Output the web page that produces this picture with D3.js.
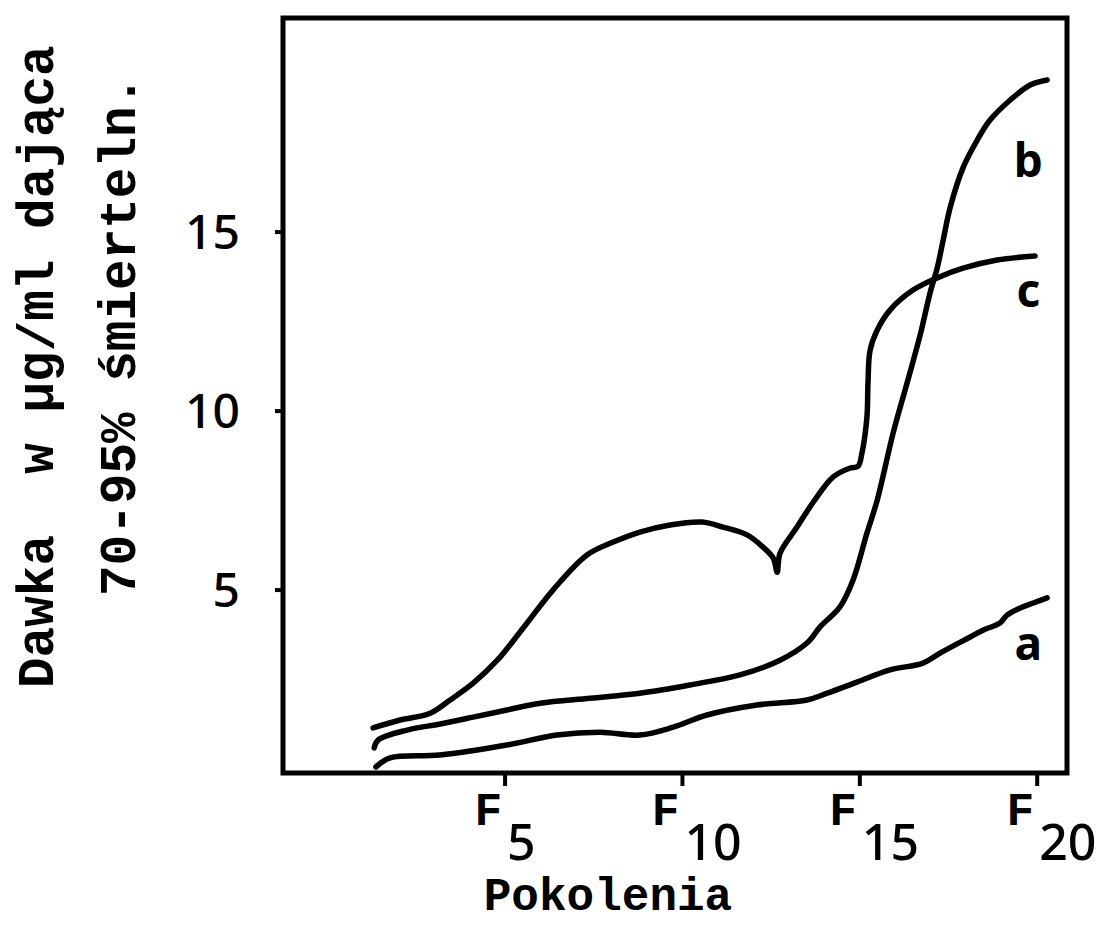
<!DOCTYPE html>
<html>
<head>
<meta charset="utf-8">
<script src="https://cdn.jsdelivr.net/npm/d3@7"></script>
<style>
  html, body { margin: 0; padding: 0; background: #fff; }
  svg { display: block; }
  text { white-space: pre; }
</style>
</head>
<body>
<script>
// ---- Data (generation, dose µg/ml) ----
const curveA = [
  [1.36,0.06],[1.76,0.31],[3.16,0.39],[5.05,0.67],[6.46,0.95],[7.68,1.03],[8.80,0.95],
  [9.74,1.17],[10.69,1.51],[12.10,1.79],[13.51,1.93],[14.08,2.12],[14.92,2.43],[15.85,2.77],
  [16.78,2.96],[17.26,3.24],[18.11,3.69],[18.47,3.88],[18.95,4.08],[19.15,4.30],[19.52,4.50],
  [19.89,4.64],[20.28,4.78]
];
const curveB = [
  [1.31,0.59],[1.42,0.81],[2.24,1.09],[3.17,1.26],[4.10,1.45],[5.05,1.65],[5.99,1.84],
  [7.40,1.98],[8.80,2.12],[10.21,2.35],[11.62,2.63],[12.75,3.04],[13.51,3.52],[13.88,3.97],
  [14.44,4.53],[14.81,5.28],[15.20,6.59],[15.49,7.51],[15.94,9.39],[16.33,10.78],[16.70,12.12],
  [16.98,13.30],[17.18,13.99],[17.35,14.78],[17.55,15.70],[17.92,16.82],[18.31,17.57],
  [18.67,18.13],[19.24,18.69],[19.80,19.11],[20.28,19.25]
];
const curveC = [
  [1.28,1.15],[2.04,1.37],[2.89,1.56],[3.45,1.93],[4.10,2.40],[4.78,3.04],[5.62,4.08],
  [6.35,5.00],[7.31,5.98],[8.05,6.34],[8.80,6.62],[9.65,6.82],[10.55,6.90],[11.14,6.76],
  [11.82,6.54],[12.27,6.20],[12.56,5.89],[12.67,5.50],[12.75,6.03],[13.23,6.76],[13.69,7.46],
  [14.25,8.16],[14.73,8.41],[14.95,8.46],[15.06,8.83],[15.20,9.83],[15.23,10.78],[15.29,11.70],
  [15.49,12.26],[15.85,12.82],[16.50,13.38],[17.18,13.72],[17.91,13.99],[18.87,14.22],[19.94,14.33]
];
const seriesNames = ["a", "b", "c"];
const yTicks = [5, 10, 15];
const xTicks = [5, 10, 15, 20];
const xTickPrefix = "F";
const xTickLabels = ["5", "10", "15", "20"];
const yTitle1 = "Dawka\u00a0\u00a0w µg/ml dająca";
const yTitle2 = "70-95% śmierteln.";
const xTitle = "Pokolenia";

// ---- Drawing ----
const W = 1097, H = 929;
const svg = d3.select("body").append("svg").attr("width", W).attr("height", H);

const x = d3.scaleLinear().domain([-1.26, 20.84]).range([283, 1067]);
const y = d3.scaleLinear().domain([-0.11, 20.98]).range([773, 18]);

const mono = "'Liberation Mono', 'DejaVu Sans Mono', monospace";
const sans = "'Noto Sans', 'DejaVu Sans', sans-serif";

// frame
const [x0, x1] = x.range();
const [yb, yt] = y.range();
svg.append("rect")
  .attr("x", x0).attr("y", yt).attr("width", x1 - x0).attr("height", yb - yt)
  .attr("fill", "none").attr("stroke", "#000").attr("stroke-width", 5);

// y ticks
const yAxisG = svg.append("g");
yAxisG.selectAll("line").data(yTicks).join("line")
  .attr("x1", x0 - 8).attr("x2", x0).attr("y1", d => y(d)).attr("y2", d => y(d))
  .attr("stroke", "#000").attr("stroke-width", 4);
yAxisG.selectAll("text").data(yTicks).join("text")
  .attr("x", 240).attr("y", d => y(d) + 17)
  .attr("text-anchor", "end")
  .attr("font-family", sans).attr("font-size", 48).attr("font-weight", 500)
  .text(d => d);

// x ticks
const xAxisG = svg.append("g");
xAxisG.selectAll("line").data(xTicks).join("line")
  .attr("x1", d => x(d)).attr("x2", d => x(d)).attr("y1", yb).attr("y2", yb + 13)
  .attr("stroke", "#000").attr("stroke-width", 4);
xAxisG.selectAll("text.f").data(xTicks).join("text").attr("class", "f")
  .attr("x", d => x(d) - 3).attr("y", 825)
  .attr("text-anchor", "end")
  .attr("font-family", mono).attr("font-size", 46).attr("font-weight", "bold")
  .text(xTickPrefix);
xAxisG.selectAll("text.sub").data(xTicks).join("text").attr("class", "sub")
  .attr("x", d => x(d) + 2).attr("y", 860)
  .attr("text-anchor", "start")
  .attr("font-family", sans).attr("font-size", 50).attr("font-weight", 500)
  .text((d, i) => xTickLabels[i]);

// axis titles
svg.append("text")
  .attr("x", 608).attr("y", 910)
  .attr("text-anchor", "middle")
  .attr("font-family", mono).attr("font-size", 46).attr("font-weight", "bold")
  .text(xTitle);
svg.append("text")
  .attr("transform", "translate(53,688) rotate(-90)")
  .attr("text-anchor", "start")
  .attr("font-family", mono).attr("font-size", 51).attr("font-weight", "bold")
  .text(yTitle1);
svg.append("text")
  .attr("transform", "translate(135,596) rotate(-90)")
  .attr("text-anchor", "start")
  .attr("font-family", mono).attr("font-size", 51).attr("font-weight", "bold")
  .text(yTitle2);

// curves
const line = d3.line().x(d => x(d[0])).y(d => y(d[1])).curve(d3.curveCatmullRom.alpha(0.5));
const curves = [curveA, curveB, curveC];
svg.append("g").selectAll("path").data(curves).join("path")
  .attr("d", line)
  .attr("fill", "none").attr("stroke", "#000").attr("stroke-width", 5.5)
  .attr("stroke-linecap", "round").attr("stroke-linejoin", "round");

// curve labels (placed near each curve's end)
const labelPos = { a: [19.75, 3.05], b: [19.75, 16.55], c: [19.75, 12.9] };
svg.append("g").selectAll("text").data(seriesNames).join("text")
  .attr("x", d => x(labelPos[d][0]))
  .attr("y", d => y(labelPos[d][1]))
  .attr("text-anchor", "middle")
  .attr("font-family", sans).attr("font-size", 46).attr("font-weight", "bold")
  .text(d => d);
</script>
</body>
</html>
